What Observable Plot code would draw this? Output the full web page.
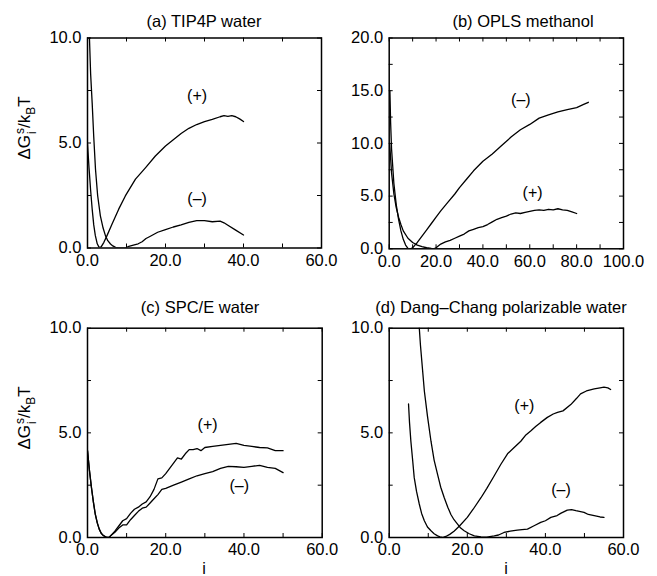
<!DOCTYPE html>
<html><head><meta charset="utf-8">
<script src="https://cdn.jsdelivr.net/npm/d3@7"></script>
<script src="https://cdn.jsdelivr.net/npm/@observablehq/plot@0.6"></script>
<style>
body{margin:0;background:#fff;font-family:"Liberation Sans",Arial,Helvetica,sans-serif;color:#000;}
#wrap{position:relative;width:657px;height:576px;overflow:hidden;background:#fff;}
.panel{position:absolute;}
.title{position:absolute;font-size:16.5px;white-space:nowrap;transform:translate(-50%,-50%);}
.ylab{position:absolute;font-size:17px;white-space:nowrap;transform:translate(-50%,-50%) rotate(-90deg);line-height:20px;}
.stack{display:inline-flex;flex-direction:column;font-size:12px;line-height:12px;vertical-align:6px;margin-left:1px;}
.sub{font-size:12px;vertical-align:-5px;}
.xlab{position:absolute;font-size:16px;transform:translate(-50%,-50%);}
</style></head><body><div id="wrap"></div>
<script>
// ---------- data ----------
const titles = ["(a) TIP4P water", "(b) OPLS methanol", "(c) SPC/E water", "(d) Dang\u2013Chang polarizable water"];
const plusLabel = "(+)";
const minusLabel = "(\u2013)";

// (a) TIP4P water
const aPlusX  = [0, 0.4, 0.8, 1.2, 1.6, 2.0, 2.5, 3.0, 3.5, 4.2, 5.0, 6.3, 8.0, 9.7, 12.3, 14.9, 17.4, 20, 22, 24, 26, 28, 30, 32, 34, 35, 36, 37, 38, 39, 40];
const aPlusY  = [4.95, 3.8, 2.75, 1.85, 1.1, 0.6, 0.2, 0.02, 0.05, 0.27, 0.59, 1.14, 1.85, 2.48, 3.28, 3.83, 4.38, 4.86, 5.15, 5.45, 5.7, 5.88, 6.02, 6.12, 6.25, 6.3, 6.27, 6.3, 6.25, 6.15, 6.02];
const aMinusX = [0.35, 0.5, 0.8, 1.2, 1.6, 2.05, 2.6, 3.3, 4.0, 4.6, 5.2, 5.9, 6.5, 7.2, 8.0, 8.9, 9.8, 10.6, 12, 13, 14, 15, 16, 18, 20, 22, 24, 26, 28, 30, 32, 34, 35, 36, 38, 40];
const aMinusY = [10.6, 10.0, 8.3, 6.9, 5.3, 3.75, 2.5, 1.53, 0.95, 0.59, 0.35, 0.19, 0.1, 0.03, 0.01, 0.0, 0.01, 0.08, 0.15, 0.2, 0.3, 0.45, 0.55, 0.75, 0.88, 1.0, 1.1, 1.22, 1.3, 1.3, 1.25, 1.28, 1.2, 1.08, 0.85, 0.62];

// (b) OPLS methanol
const bMinusX = [0.3, 0.6, 1, 2, 3, 4, 5, 6, 7, 8, 9, 10, 11, 12, 14, 16, 18, 20, 22, 25, 28, 30, 33, 36, 40, 44, 48, 52, 56, 60, 64, 68, 72, 76, 80, 83, 85];
const bMinusY = [15.0, 12.0, 9.5, 6.2, 4.2, 2.8, 1.7, 0.9, 0.35, 0.05, 0.0, 0.1, 0.35, 0.6, 1.2, 1.8, 2.4, 3.0, 3.6, 4.4, 5.2, 5.8, 6.6, 7.4, 8.3, 9.0, 9.8, 10.6, 11.3, 11.8, 12.4, 12.7, 13.0, 13.2, 13.4, 13.7, 13.9];
const bPlusX  = [0.2, 1, 2, 3, 4, 5, 6, 8, 10, 12, 14, 16, 18, 19, 20, 22, 24, 26, 28, 30, 32, 34, 36, 38, 40, 42, 44, 46, 48, 50, 52, 54, 56, 58, 60, 62, 64, 66, 68, 70, 72, 74, 76, 78, 80];
const bPlusY  = [10.0, 7.2, 5.2, 3.9, 3.0, 2.3, 1.7, 1.0, 0.6, 0.35, 0.2, 0.1, 0.03, 0.0, 0.1, 0.45, 0.65, 0.8, 1.0, 1.2, 1.4, 1.7, 1.85, 2.0, 2.1, 2.3, 2.55, 2.8, 2.95, 3.1, 3.3, 3.4, 3.35, 3.45, 3.55, 3.65, 3.7, 3.65, 3.75, 3.7, 3.8, 3.7, 3.65, 3.5, 3.35];

// (c) SPC/E water
const cPlusX  = [0, 0.5, 1, 1.5, 2, 2.5, 3, 3.5, 4, 4.5, 5, 5.5, 6, 7, 8, 9, 10, 11, 12, 13, 14, 15, 16, 17, 18, 19, 20, 21, 22, 23, 24, 25, 26, 27, 28, 29, 30, 32, 34, 36, 38, 40, 42, 44, 46, 48, 50];
const cPlusY  = [4.15, 3.2, 2.4, 1.7, 1.1, 0.7, 0.4, 0.2, 0.1, 0.05, 0.0, 0.0, 0.1, 0.3, 0.55, 0.8, 0.9, 1.15, 1.35, 1.45, 1.6, 1.7, 1.95, 2.3, 2.8, 2.85, 3.05, 3.3, 3.55, 3.8, 3.75, 4.0, 4.2, 4.2, 4.25, 4.15, 4.3, 4.35, 4.4, 4.45, 4.5, 4.4, 4.35, 4.3, 4.28, 4.15, 4.15];
const cMinusX = [0, 0.5, 1, 1.5, 2, 2.5, 3, 3.5, 4, 4.5, 5, 5.5, 6, 7, 8, 9, 10, 11, 12, 13, 14, 15, 16, 17, 18, 19, 20, 22, 24, 26, 28, 30, 32, 34, 36, 38, 40, 42, 44, 46, 48, 50];
const cMinusY = [4.15, 3.2, 2.4, 1.7, 1.1, 0.7, 0.4, 0.2, 0.1, 0.05, 0.0, 0.0, 0.1, 0.25, 0.45, 0.6, 0.6, 0.85, 1.05, 1.25, 1.4, 1.45, 1.65, 1.85, 2.05, 2.3, 2.35, 2.5, 2.65, 2.8, 2.95, 3.05, 3.15, 3.3, 3.4, 3.38, 3.35, 3.4, 3.45, 3.35, 3.3, 3.1];

// (d) Dang-Chang polarizable water
const dPlusX  = [4.95, 5.2, 5.55, 6.0, 6.4, 7.0, 7.7, 8.3, 9.0, 9.8, 10.7, 11.5, 12.4, 13.0, 13.65, 14.5, 15.5, 16.6, 18, 20, 21.5, 23.5, 25, 26.9, 28.6, 30.3, 32, 33.7, 35, 36.3, 37.5, 38.8, 40.5, 42, 43.1, 44.5, 46.5, 48, 49, 50.5, 52.5, 54, 55, 56, 56.7];
const dPlusY  = [6.38, 5.5, 4.6, 3.7, 2.87, 2.2, 1.6, 1.15, 0.8, 0.5, 0.32, 0.18, 0.08, 0.03, 0.0, 0.05, 0.15, 0.3, 0.55, 0.96, 1.35, 1.9, 2.35, 2.95, 3.5, 4.0, 4.3, 4.6, 4.9, 5.1, 5.3, 5.5, 5.74, 5.9, 5.98, 6.05, 6.35, 6.65, 6.86, 7.0, 7.1, 7.15, 7.18, 7.15, 7.07];
const dMinusX = [7.6, 8.0, 8.5, 9.0, 9.8, 10.7, 11.5, 12.4, 13.2, 14.1, 15.0, 15.8, 16.6, 17.5, 18.3, 19.2, 20.5, 21.8, 23.5, 25, 26.9, 28, 29.4, 31, 32.8, 34, 35.4, 37.1, 38.8, 40, 41.4, 43, 43.9, 45.6, 46.7, 47.8, 49.9, 51, 52.5, 54, 55];
const dMinusY = [10.3, 9.2, 8.1, 7.0, 5.8, 4.6, 3.7, 3.0, 2.4, 1.9, 1.45, 1.1, 0.85, 0.64, 0.45, 0.32, 0.18, 0.08, 0.03, 0.02, 0.08, 0.12, 0.24, 0.3, 0.35, 0.38, 0.4, 0.56, 0.72, 0.8, 0.96, 1.05, 1.15, 1.31, 1.33, 1.28, 1.2, 1.1, 1.04, 0.98, 0.96];

// curve label positions (data units)
const labelPos = [
  [[28.1, 7.26, plusLabel], [28.1, 2.34, minusLabel]],
  [[56.2, 14.1, minusLabel], [61.2, 5.3, plusLabel]],
  [[30.7, 5.36, plusLabel], [38.8, 2.49, minusLabel]],
  [[34.6, 6.3, plusLabel], [44.0, 2.28, minusLabel]]
];

// axis ticks
const xDomains = [[0, 60], [0, 100], [0, 60], [0, 60]];
const yDomains = [[0, 10], [0, 20], [0, 10], [0, 10]];
const xMajor = [[0, 20, 40, 60], [0, 20, 40, 60, 80, 100], [0, 20, 40, 60], [0, 20, 40, 60]];
const yMajor = [[0, 5, 10], [0, 5, 10, 15, 20], [0, 5, 10], [0, 5, 10]];
const xMinor = [d3.range(0, 61, 10), d3.range(0, 101, 10), d3.range(0, 61, 10), d3.range(0, 61, 10)];
const yMinor = [d3.range(0, 10.01, 2.5), d3.range(0, 20.01, 2.5), d3.range(0, 10.01, 2.5), d3.range(0, 10.01, 2.5)];

const series = [
  [[aPlusX, aPlusY], [aMinusX, aMinusY]],
  [[bMinusX, bMinusY], [bPlusX, bPlusY]],
  [[cPlusX, cPlusY], [cMinusX, cMinusY]],
  [[dPlusX, dPlusY], [dMinusX, dMinusY]]
];

// ---------- layout ----------
const layout = [
  {left: 0,   top: 0,   width: 330, height: 290, ml: 87,   mt: 37.5, mr: 9,  mb: 42.5},
  {left: 330, top: 0,   width: 327, height: 290, ml: 58.7, mt: 37.5, mr: 34, mb: 41.7},
  {left: 0,   top: 290, width: 330, height: 286, ml: 87,   mt: 37.7, mr: 8.3, mb: 39},
  {left: 330, top: 290, width: 327, height: 286, ml: 58.7, mt: 37.7, mr: 34, mb: 39}
];
const titlePos = [[204, 21], [523, 21], [200, 307], [501, 307]];

const wrap = document.getElementById("wrap");
const fmt = d3.format(".1f");

layout.forEach((L, k) => {
  const iw = L.width - L.ml - L.mr, ih = L.height - L.mt - L.mb;
  const tk = 4;
  const marks = [
    Plot.ruleX(xMinor[k], {x: d => d, insetTop: ih - tk, stroke: "black", strokeWidth: 1}),
    Plot.ruleX(xMinor[k], {x: d => d, insetBottom: ih - tk, stroke: "black", strokeWidth: 1}),
    Plot.ruleY(yMinor[k], {y: d => d, insetRight: iw - tk, stroke: "black", strokeWidth: 1}),
    Plot.ruleY(yMinor[k], {y: d => d, insetLeft: iw - tk, stroke: "black", strokeWidth: 1}),
    Plot.axisX({anchor: "bottom", ticks: xMajor[k], tickSize: 0, tickPadding: 6, tickFormat: fmt, label: null}),
    Plot.axisY({anchor: "left", ticks: yMajor[k], tickSize: 0, tickPadding: 6, tickFormat: fmt, label: null}),
    ...series[k].map(([xs, ys]) => Plot.line(xs.map((x, i) => [x, ys[i]]), {stroke: "black", strokeWidth: 1.3, clip: true})),
    Plot.text(labelPos[k], {x: d => d[0], y: d => d[1], text: d => d[2], fontSize: 16, fill: "black"}),
    Plot.frame({stroke: "black", strokeWidth: 1.5})
  ];
  const svg = Plot.plot({
    width: L.width, height: L.height,
    marginLeft: L.ml, marginRight: L.mr, marginTop: L.mt, marginBottom: L.mb,
    x: {domain: xDomains[k]},
    y: {domain: yDomains[k]},
    style: {background: "transparent", overflow: "visible", fontSize: "16.5px", fontFamily: "'Liberation Sans', Arial, sans-serif", color: "black"},
    marks
  });
  const div = document.createElement("div");
  div.className = "panel";
  div.style.left = L.left + "px";
  div.style.top = L.top + "px";
  div.appendChild(svg);
  wrap.appendChild(div);

  const t = document.createElement("div");
  t.className = "title";
  t.textContent = titles[k];
  t.style.left = titlePos[k][0] + "px";
  t.style.top = titlePos[k][1] + "px";
  wrap.appendChild(t);
});

// y-axis labels
[[27, 128], [27, 418]].forEach(([x, y]) => {
  const d = document.createElement("div");
  d.className = "ylab";
  d.innerHTML = '\u0394G<span class="stack"><span>s</span><span>i</span></span>/k<span class="sub">B</span>T';
  d.style.left = x + "px";
  d.style.top = y + "px";
  wrap.appendChild(d);
});
// x-axis labels
[[204, 569], [506, 569]].forEach(([x, y]) => {
  const d = document.createElement("div");
  d.className = "xlab";
  d.textContent = "i";
  d.style.left = x + "px";
  d.style.top = y + "px";
  wrap.appendChild(d);
});
</script>
</body></html>
